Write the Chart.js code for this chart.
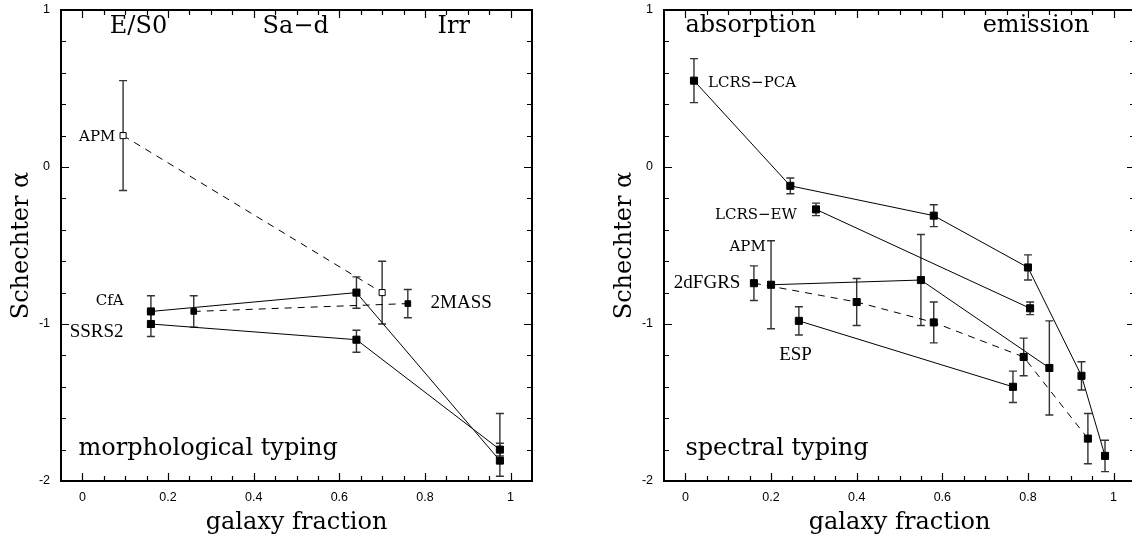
<!DOCTYPE html>
<html>
<head>
<meta charset="utf-8">
<script src="https://cdn.jsdelivr.net/npm/chart.js@4.4.1/dist/chart.umd.min.js"></script>
<style>
  html, body { margin: 0; padding: 0; background: #fff; overflow: hidden; }
  body { width: 1132px; height: 538px; position: relative; }
  .panel { position: absolute; top: 0; width: 566px; height: 538px; }
  #leftPanel { left: 0; }
  #rightPanel { left: 603px; }
</style>
</head>
<body>
<div class="panel" id="leftPanel"><canvas id="morphChart"></canvas></div>
<div class="panel" id="rightPanel"><canvas id="specChart"></canvas></div>
<script>
// Ejes
const xTickValues = [0, 0.2, 0.4, 0.6, 0.8, 1];
const yTickValues = [-2, -1, 0, 1];

// Panel izquierdo: tipos morfologicos
const apmMorphX = [0.095, 0.70];
const apmMorphY = [0.20, -0.80];
const apmMorphErrUp = [0.35, 0.20];
const apmMorphErrDown = [0.35, 0.20];

const cfaX = [0.16, 0.64, 0.975];
const cfaY = [-0.92, -0.80, -1.87];
const cfaErrUp = [0.10, 0.10, 0.30];
const cfaErrDown = [0.10, 0.10, 0.10];

const ssrs2X = [0.16, 0.64, 0.975];
const ssrs2Y = [-1.00, -1.10, -1.80];
const ssrs2ErrUp = [0.08, 0.06, 0.04];
const ssrs2ErrDown = [0.08, 0.08, 0.04];

const twoMassX = [0.26, 0.76];
const twoMassY = [-0.92, -0.87];
const twoMassErrUp = [0.10, 0.09];
const twoMassErrDown = [0.10, 0.09];

// Panel derecho: tipos espectrales
const pcaX = [0.02, 0.245, 0.58, 0.80, 0.925, 0.98];
const pcaY = [0.55, -0.12, -0.31, -0.64, -1.33, -1.84];
const pcaErr = [0.14, 0.05, 0.07, 0.08, 0.09, 0.10];

const ewX = [0.305, 0.805];
const ewY = [-0.27, -0.90];
const ewErr = [0.04, 0.04];

const apmSpecX = [0.20, 0.55, 0.85];
const apmSpecY = [-0.75, -0.72, -1.28];
const apmSpecErr = [0.28, 0.29, 0.30];

const twoDfX = [0.16, 0.40, 0.58, 0.79, 0.94];
const twoDfY = [-0.74, -0.86, -0.99, -1.21, -1.73];
const twoDfErr = [0.11, 0.15, 0.13, 0.12, 0.16];

const espX = [0.265, 0.765];
const espY = [-0.98, -1.40];
const espErr = [0.09, 0.10];

// Fuentes
const bigSerif = '24px "DejaVu Serif"';
const smallSerif = '15px "DejaVu Serif"';
const timesLabel = '19px "Liberation Serif"';

function series(xs, ys, errUp, errDown, style) {
    return Object.assign({
        data: xs.map((x, i) => ({ x: x, y: ys[i] })),
        errUp: errUp,
        errDown: errDown,
        showLine: true,
        borderColor: '#000',
        borderWidth: 1,
        pointStyle: 'rect',
        pointRadius: 5,
        pointBackgroundColor: '#000',
        pointBorderColor: '#000',
        pointBorderWidth: 1
    }, style || {});
}

// Barras de error, marco, marcas y textos
const panelDecor = {
    id: 'panelDecor',
    beforeDatasetsDraw(chart) {
        const { ctx, scales: { x, y } } = chart;
        ctx.save();
        ctx.strokeStyle = '#333';
        ctx.lineWidth = 1.4;
        chart.data.datasets.forEach(ds => {
            ds.data.forEach((p, i) => {
                const px = x.getPixelForValue(p.x);
                const top = y.getPixelForValue(p.y + ds.errUp[i]);
                const bot = y.getPixelForValue(p.y - ds.errDown[i]);
                ctx.beginPath();
                ctx.moveTo(px, top); ctx.lineTo(px, bot);
                ctx.moveTo(px - 4, top); ctx.lineTo(px + 4, top);
                ctx.moveTo(px - 4, bot); ctx.lineTo(px + 4, bot);
                ctx.stroke();
            });
        });
        ctx.restore();
    },
    afterDraw(chart, args, opts) {
        const { ctx, chartArea: ca, scales: { x, y } } = chart;
        ctx.save();
        ctx.strokeStyle = '#000';
        ctx.lineWidth = 1.2;
        ctx.beginPath();
        for (let i = 0; i <= 20; i++) {
            const px = Math.round(x.getPixelForValue(i * 0.05)) + 0.5;
            const len = i % 4 === 0 ? 8 : 5;
            ctx.moveTo(px, ca.bottom); ctx.lineTo(px, ca.bottom - len);
            ctx.moveTo(px, ca.top); ctx.lineTo(px, ca.top + len);
        }
        for (let i = -9; i <= 4; i++) {
            const py = Math.round(y.getPixelForValue(i * 0.2)) + 0.5;
            const len = i % 5 === 0 ? 8 : 5;
            ctx.moveTo(ca.left, py); ctx.lineTo(ca.left + len, py);
            ctx.moveTo(ca.right, py); ctx.lineTo(ca.right - len, py);
        }
        ctx.stroke();
        ctx.lineWidth = 2;
        ctx.strokeRect(ca.left, ca.top, ca.right - ca.left, ca.bottom - ca.top);

        ctx.fillStyle = '#000';
        (opts.items || []).forEach(t => {
            ctx.font = t.font;
            ctx.textAlign = t.align;
            ctx.textBaseline = t.baseline;
            ctx.fillText(t.text, x.getPixelForValue(t.x), y.getPixelForValue(t.y));
        });
        ctx.restore();
    }
};

function panelOptions(items) {
    return {
        responsive: true,
        maintainAspectRatio: false,
        animation: false,
        events: [],
        layout: { padding: { top: 10, right: 34, bottom: 0, left: 0 } },
        plugins: {
            legend: { display: false },
            tooltip: { enabled: false },
            panelDecor: { items: items }
        },
        scales: {
            x: {
                type: 'linear',
                min: -0.05,
                max: 1.05,
                afterBuildTicks: s => { s.ticks = xTickValues.map(v => ({ value: v })); },
                afterFit: s => { s.height = 57; s.paddingLeft = 0; s.paddingRight = 0; },
                grid: { display: false, drawTicks: false },
                border: { display: false },
                ticks: {
                    padding: 9,
                    color: '#000',
                    font: { family: 'Liberation Sans', size: 12.5 },
                    maxRotation: 0,
                    callback: v => String(v)
                },
                title: {
                    display: true,
                    text: 'galaxy fraction',
                    color: '#000',
                    font: { family: 'DejaVu Serif', size: 24 },
                    padding: { top: 0, bottom: 1 }
                }
            },
            y: {
                type: 'linear',
                min: -2,
                max: 1,
                afterBuildTicks: s => { s.ticks = yTickValues.map(v => ({ value: v })); },
                afterFit: s => { s.width = 61; s.paddingTop = 0; s.paddingBottom = 0; },
                grid: { display: false, drawTicks: false },
                border: { display: false },
                ticks: {
                    padding: 11,
                    color: '#000',
                    font: { family: 'Liberation Sans', size: 12.5 },
                    callback: v => String(v)
                },
                title: {
                    display: true,
                    text: 'Schechter α',
                    color: '#000',
                    font: { family: 'DejaVu Serif', size: 24 },
                    padding: { top: 7, bottom: 0 }
                }
            }
        }
    };
}

const morphItems = [
    { text: 'E/S0', x: 0.131, y: 0.854, align: 'center', baseline: 'alphabetic', font: bigSerif },
    { text: 'Sa\u2212d', x: 0.498, y: 0.854, align: 'center', baseline: 'alphabetic', font: bigSerif },
    { text: 'Irr', x: 0.867, y: 0.854, align: 'center', baseline: 'alphabetic', font: bigSerif },
    { text: 'morphological typing', x: -0.009, y: -1.834, align: 'left', baseline: 'alphabetic', font: bigSerif },
    { text: 'APM', x: 0.077, y: 0.193, align: 'right', baseline: 'middle', font: smallSerif },
    { text: 'CfA', x: 0.096, y: -0.854, align: 'right', baseline: 'middle', font: smallSerif },
    { text: 'SSRS2', x: 0.096, y: -1.049, align: 'right', baseline: 'middle', font: timesLabel },
    { text: '2MASS', x: 0.813, y: -0.864, align: 'left', baseline: 'middle', font: timesLabel }
];

const specItems = [
    { text: 'absorption', x: 0.0, y: 0.86, align: 'left', baseline: 'alphabetic', font: bigSerif },
    { text: 'emission', x: 0.819, y: 0.86, align: 'center', baseline: 'alphabetic', font: bigSerif },
    { text: 'spectral typing', x: 0.0, y: -1.834, align: 'left', baseline: 'alphabetic', font: bigSerif },
    { text: 'LCRS\u2212PCA', x: 0.053, y: 0.535, align: 'left', baseline: 'middle', font: smallSerif },
    { text: 'LCRS\u2212EW', x: 0.069, y: -0.306, align: 'left', baseline: 'middle', font: smallSerif },
    { text: 'APM', x: 0.103, y: -0.508, align: 'left', baseline: 'middle', font: smallSerif },
    { text: '2dFGRS', x: -0.027, y: -0.741, align: 'left', baseline: 'middle', font: timesLabel },
    { text: 'ESP', x: 0.219, y: -1.20, align: 'left', baseline: 'middle', font: timesLabel }
];

// Grafico izquierdo
new Chart(document.getElementById('morphChart').getContext('2d'), {
    type: 'scatter',
    data: {
        datasets: [
            series(apmMorphX, apmMorphY, apmMorphErrUp, apmMorphErrDown, {
                borderDash: [7, 6], pointRadius: 4.3, pointBackgroundColor: '#fff'
            }),
            series(cfaX, cfaY, cfaErrUp, cfaErrDown),
            series(ssrs2X, ssrs2Y, ssrs2ErrUp, ssrs2ErrDown),
            series(twoMassX, twoMassY, twoMassErrUp, twoMassErrDown, {
                borderDash: [7, 6], pointRadius: 4
            })
        ]
    },
    options: panelOptions(morphItems),
    plugins: [panelDecor]
});

// Grafico derecho
new Chart(document.getElementById('specChart').getContext('2d'), {
    type: 'scatter',
    data: {
        datasets: [
            series(pcaX, pcaY, pcaErr, pcaErr),
            series(ewX, ewY, ewErr, ewErr),
            series(apmSpecX, apmSpecY, apmSpecErr, apmSpecErr),
            series(twoDfX, twoDfY, twoDfErr, twoDfErr, { borderDash: [7, 6] }),
            series(espX, espY, espErr, espErr)
        ]
    },
    options: panelOptions(specItems),
    plugins: [panelDecor]
});
</script>
</body>
</html>
